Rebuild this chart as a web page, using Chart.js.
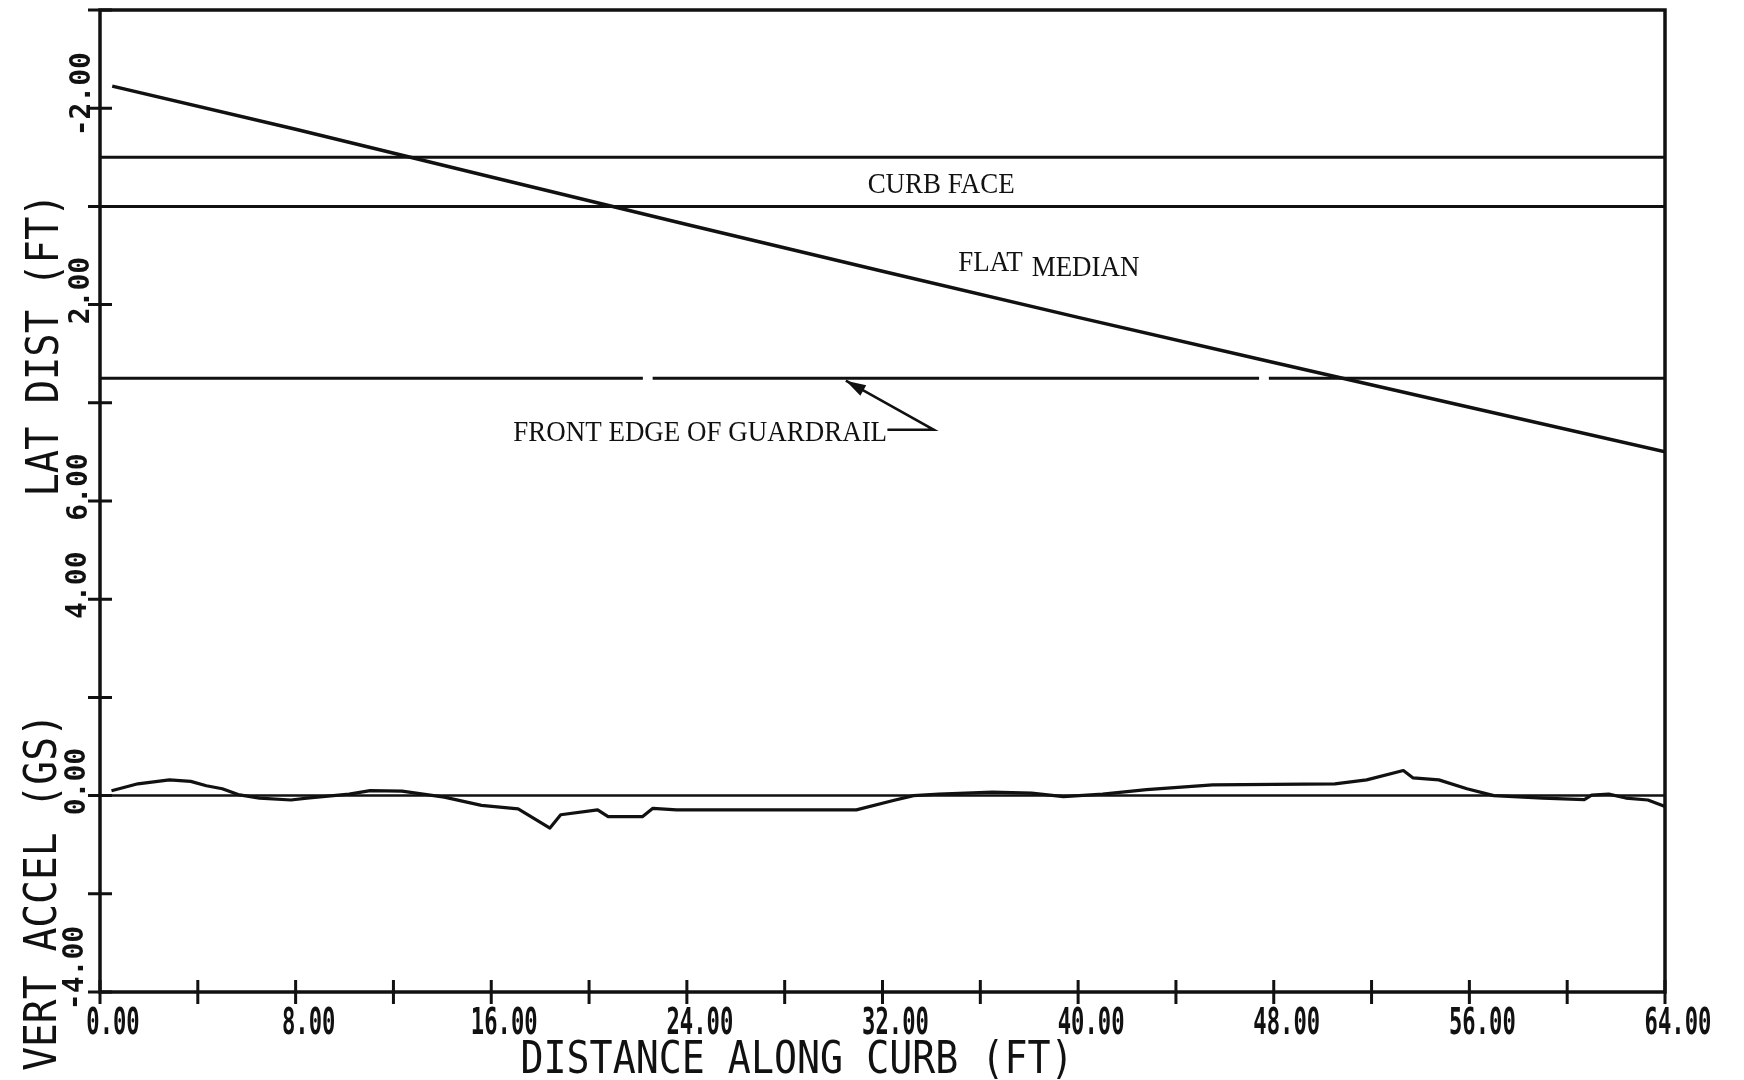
<!DOCTYPE html>
<html>
<head>
<meta charset="utf-8">
<script src="https://cdn.jsdelivr.net/npm/chart.js@4.4.1/dist/chart.umd.min.js"></script>
<style>
  html, body { margin: 0; padding: 0; background: #fff; }
  #wrap { width: 1744px; height: 1080px; }
</style>
</head>
<body>
<div id="wrap"><canvas id="curbChart" width="1744" height="1080"></canvas></div>
<script>
// vehicle path, lateral distance (ft) vs distance along curb (ft)
const pathDist = [0.5, 8, 16, 24, 32, 40, 48, 56, 64];
const pathLat = [-2.45, -1.57, -0.6, 0.37, 1.32, 2.26, 3.18, 4.09, 5.0];

// reference lines in the lateral panel
const curbFaceLat = -1;
const medianEdgeLat = 0;
const guardrailLat = 3.5;
const guardrailBreaks = [[22.2, 22.6], [47.4, 47.8]];

// vertical acceleration (g) vs distance along curb (ft)
const accelDist = [0.47, 1.55, 2.84, 3.71, 4.35, 5.0, 5.65, 6.52, 7.81, 8.46, 10.19, 11.05, 12.35, 14.08,
  15.6, 17.1, 18.4, 18.84, 20.35, 20.78, 22.18, 22.61, 23.58, 30.93, 32.44, 33.27, 34.3, 36.5, 38.1,
  39.4, 41.0, 42.8, 45.5, 50.5, 51.8, 53.3, 53.7, 54.75, 55.9, 57.0, 59.0, 60.7, 61.0, 61.7, 62.4, 63.3, 64.0];
const accelG = [0.10, 0.24, 0.32, 0.29, 0.20, 0.14, 0.02, -0.05, -0.09, -0.05, 0.03, 0.10, 0.09, -0.03,
  -0.20, -0.27, -0.66, -0.39, -0.29, -0.43, -0.43, -0.26, -0.29, -0.29, -0.10, 0.0, 0.03, 0.07, 0.05,
  -0.02, 0.03, 0.12, 0.22, 0.24, 0.32, 0.51, 0.36, 0.32, 0.14, 0.0, -0.05, -0.08, 0.01, 0.03, -0.05, -0.09, -0.22];

// ticks
const distTicks = [0, 4, 8, 12, 16, 20, 24, 28, 32, 36, 40, 44, 48, 52, 56, 60, 64];
const distLabelValues = [0, 8, 16, 24, 32, 40, 48, 56, 64];
const distLabels = ['0.00', '8.00', '16.00', '24.00', '32.00', '40.00', '48.00', '56.00', '64.00'];
const latTicks = [-4, -2, 0, 2, 4, 6];
const latLabelValues = [-2, 2, 6];
const latLabels = ['-2.00', '2.00', '6.00'];
const accTicks = [-4, -2, 0, 2, 4];
const accLabelValues = [-4, 0, 4];
const accLabels = ['-4.00', '0.00', '4.00'];

const ink = '#111';
const plotterFont = '"DejaVu Sans Mono", monospace';
const typeFont = '"Liberation Serif", "DejaVu Serif", serif';

function toPoints(xs, ys) {
  return xs.map((x, i) => ({ x: x, y: ys[i] }));
}

function guardrailPoints() {
  const pts = [{ x: 0, y: guardrailLat }];
  guardrailBreaks.forEach(b => {
    pts.push({ x: b[0], y: guardrailLat }, { x: b[0], y: null }, { x: b[1], y: guardrailLat });
  });
  pts.push({ x: 64, y: guardrailLat });
  return pts;
}

function plotText(ctx, text, x, y, font, stretch, rotate, align) {
  ctx.save();
  ctx.translate(x, y);
  if (rotate) ctx.rotate(-Math.PI / 2);
  ctx.scale(stretch, 1);
  ctx.font = font;
  ctx.textAlign = align || 'center';
  ctx.textBaseline = 'alphabetic';
  ctx.fillText(text, 0, 0);
  ctx.restore();
}

const plotterAxes = {
  id: 'plotterAxes',
  afterDraw(chart) {
    const { ctx, chartArea: a, scales } = chart;
    const sx = scales.x, sLat = scales.yLat, sAcc = scales.yAcc;
    ctx.save();
    ctx.strokeStyle = ink;
    ctx.fillStyle = ink;
    ctx.lineWidth = 3.5;
    ctx.strokeRect(a.left, a.top, a.right - a.left, a.bottom - a.top);

    // crossing tick marks
    ctx.lineWidth = 3;
    ctx.beginPath();
    latTicks.forEach(v => {
      const y = sLat.getPixelForValue(v);
      ctx.moveTo(a.left - 12, y); ctx.lineTo(a.left + 12, y);
    });
    accTicks.forEach(v => {
      const y = sAcc.getPixelForValue(v);
      ctx.moveTo(a.left - 12, y); ctx.lineTo(a.left + 12, y);
    });
    distTicks.forEach(v => {
      const x = sx.getPixelForValue(v);
      ctx.moveTo(x, a.bottom - 12); ctx.lineTo(x, a.bottom + 12);
    });
    ctx.stroke();

    // tick labels
    const tickFont = 'bold 37px ' + plotterFont;
    const yTickFont = 'bold 28px ' + plotterFont;
    distLabelValues.forEach((v, i) => {
      plotText(ctx, distLabels[i], sx.getPixelForValue(v) + 13, a.bottom + 42, tickFont, 0.6, false);
    });
    // label column drifts slightly left toward the bottom, as on the plot
    const labelX = y => a.left - 9 - 8 * (y - a.top) / (a.bottom - a.top);
    latLabelValues.forEach((v, i) => {
      const y = sLat.getPixelForValue(v);
      plotText(ctx, latLabels[i], labelX(y), y - 14, yTickFont, 1.0, true);
    });
    accLabelValues.forEach((v, i) => {
      const y = sAcc.getPixelForValue(v);
      plotText(ctx, accLabels[i], labelX(y), y - (v === -4 ? 24 : 14), yTickFont, 1.0, true);
    });

    // axis titles
    const titleFont = '44px ' + plotterFont;
    plotText(ctx, 'LAT DIST (FT)', 58, 345, titleFont, 0.88, true);
    plotText(ctx, 'VERT ACCEL (GS)', 56, 892, titleFont, 0.9, true);
    plotText(ctx, 'DISTANCE ALONG CURB (FT)', 797, 1073, titleFont, 0.87, false);

    // typed annotations
    const noteFont = '29px ' + typeFont;
    plotText(ctx, 'CURB FACE', sx.getPixelForValue(34.4), sLat.getPixelForValue(-0.28), noteFont, 0.93, false, 'center');
    plotText(ctx, 'FLAT', sx.getPixelForValue(35.1), sLat.getPixelForValue(1.32), noteFont, 0.93, false, 'left');
    plotText(ctx, 'MEDIAN', sx.getPixelForValue(38.1), sLat.getPixelForValue(1.41), noteFont, 0.93, false, 'left');
    plotText(ctx, 'FRONT EDGE OF GUARDRAIL', sx.getPixelForValue(16.9), sLat.getPixelForValue(4.78), noteFont, 0.93, false, 'left');

    // leader with arrow to guardrail line
    const p1 = [sx.getPixelForValue(32.2), sLat.getPixelForValue(4.55)];
    const p2 = [sx.getPixelForValue(34.1), sLat.getPixelForValue(4.55)];
    const tip = [sx.getPixelForValue(30.5), sLat.getPixelForValue(3.55)];
    ctx.lineWidth = 2.5;
    ctx.beginPath();
    ctx.moveTo(p1[0], p1[1]); ctx.lineTo(p2[0], p2[1]); ctx.lineTo(tip[0], tip[1]);
    ctx.stroke();
    const ang = Math.atan2(tip[1] - p2[1], tip[0] - p2[0]);
    const len = 20, half = 6;
    const bx = tip[0] - len * Math.cos(ang), by = tip[1] - len * Math.sin(ang);
    ctx.beginPath();
    ctx.moveTo(tip[0], tip[1]);
    ctx.lineTo(bx + half * Math.sin(ang), by - half * Math.cos(ang));
    ctx.lineTo(bx - half * Math.sin(ang), by + half * Math.cos(ang));
    ctx.closePath();
    ctx.fill();
    ctx.restore();
  }
};

const ctx = document.getElementById('curbChart').getContext('2d');
new Chart(ctx, {
  type: 'line',
  data: {
    datasets: [
      { data: toPoints(pathDist, pathLat), yAxisID: 'yLat', borderWidth: 3.5 },
      { data: toPoints([0, 64], [curbFaceLat, curbFaceLat]), yAxisID: 'yLat', borderWidth: 3 },
      { data: toPoints([0, 64], [medianEdgeLat, medianEdgeLat]), yAxisID: 'yLat', borderWidth: 3 },
      { data: guardrailPoints(), yAxisID: 'yLat', borderWidth: 3, spanGaps: false },
      { data: toPoints([0, 64], [0, 0]), yAxisID: 'yAcc', borderWidth: 2.5 },
      { data: toPoints(accelDist, accelG), yAxisID: 'yAcc', borderWidth: 3.2 }
    ]
  },
  options: {
    responsive: false,
    animation: false,
    layout: { padding: { left: 100, right: 79, top: 10, bottom: 88 } },
    elements: {
      point: { radius: 0 },
      line: { borderColor: ink, tension: 0, fill: false, borderJoinStyle: 'round' }
    },
    plugins: { legend: { display: false }, tooltip: { enabled: false } },
    scales: {
      x: { type: 'linear', min: 0, max: 64, display: false },
      yLat: { type: 'linear', reverse: true, min: -4, max: 16, display: false },
      yAcc: { type: 'linear', min: -4, max: 16, display: false }
    }
  },
  plugins: [plotterAxes]
});
</script>
</body>
</html>
